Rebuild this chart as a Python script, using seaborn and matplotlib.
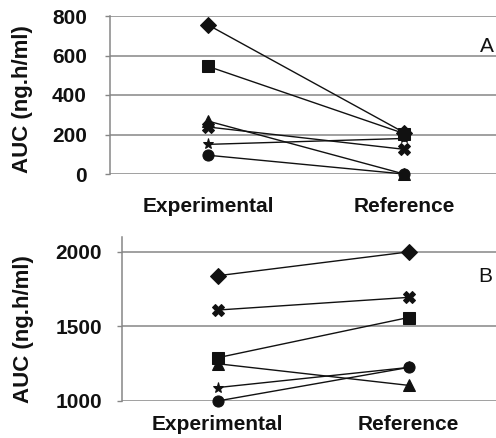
import numpy as np
import pandas as pd
import matplotlib
matplotlib.use("Agg")
import matplotlib.pyplot as plt
import matplotlib.transforms as mtransforms
import seaborn as sns

# Formulations compared (x categories)
formulations = ["Experimental", "Reference"]
subjects = ["S1", "S2", "S3", "S4", "S5", "S6"]
subject_markers = ["D", "s", "^", "X", "*", "o"]

# Panel A: AUC (ng.h/ml) per subject, Experimental vs Reference
auc_a_experimental = [755, 545, 268, 238, 150, 95]
auc_a_reference = [210, 205, 0, 125, 180, 0]

# Panel B: AUC (ng.h/ml) per subject, Experimental vs Reference
auc_b_experimental = [1840, 1290, 1250, 1610, 1090, 1000]
auc_b_reference = [2000, 1560, 1105, 1695, 1225, 1225]

yticks_a = [0, 200, 400, 600, 800]
yticks_b = [1000, 1500, 2000]

sns.set_theme(style="white")
plt.rcParams["font.family"] = ["Liberation Sans", "DejaVu Sans"]

W, H = 496, 438
fig = plt.figure(figsize=(W / 100, H / 100), dpi=100)
INK = "#111111"
GRID = "#868686"


def px_axes(left, top, right, bottom):
    return fig.add_axes([left / W, 1 - bottom / H, (right - left) / W, (bottom - top) / H])


def long_table(exp, ref):
    rows = []
    for s, e, r in zip(subjects, exp, ref):
        rows.append({"subject": s, "pos": 0, "auc": e})
        rows.append({"subject": s, "pos": 1, "auc": r})
    return pd.DataFrame(rows)


def draw_panel(ax, exp, ref, ylim, yticks, letter, letter_xy, label_shift, xpad, ypad):
    df = long_table(exp, ref)
    sns.lineplot(data=df, x="pos", y="auc", units="subject", style="subject",
                 markers=dict(zip(subjects, subject_markers)), dashes=False,
                 estimator=None, color=INK, linewidth=1.0,
                 markersize=8.0, markeredgecolor=INK, legend=False,
                 ax=ax, clip_on=False, zorder=3)
    ax.set_xlim(-0.5, 1.5)
    ax.set_ylim(*ylim)
    ax.set_yticks(yticks)
    ax.set_yticklabels([str(v) for v in yticks], fontsize=15, fontweight="bold", color=INK)
    ax.set_xticks([0, 1])
    ax.set_xticklabels(formulations, fontsize=15, fontweight="bold", color=INK)
    for lab, dx in zip(ax.get_xticklabels(), label_shift):
        lab.set_transform(lab.get_transform() +
                          mtransforms.ScaledTranslation(dx / 100, 0, fig.dpi_scale_trans))
    ax.tick_params(axis="x", length=0, pad=xpad)
    ax.tick_params(axis="y", length=3.6, width=1, color=GRID, pad=ypad, left=True)
    for t in yticks:
        ax.axhline(t, color=GRID, linewidth=1.1, zorder=1)
    for side in ["top", "right", "bottom"]:
        ax.spines[side].set_visible(False)
    ax.spines["left"].set_color(GRID)
    ax.spines["left"].set_linewidth(1.1)
    ax.set_xlabel("")
    ax.set_ylabel("AUC (ng.h/ml)", fontsize=16, fontweight="bold", color=INK)
    ax.text(letter_xy[0] / W, 1 - letter_xy[1] / H, letter, transform=fig.transFigure,
            fontsize=15, color=INK, ha="center", va="center")


ax_a = px_axes(110, 16, 502, 174)
draw_panel(ax_a, auc_a_experimental, auc_a_reference, (0, 800), yticks_a, "A",
           (487, 46), [14, 22], xpad=16.5, ypad=13)
ax_a.yaxis.set_label_coords(33 / W, 1 - 99 / H, transform=fig.transFigure)

ax_b = px_axes(122, 237, 504, 401)
draw_panel(ax_b, auc_b_experimental, auc_b_reference, (1000, 2100), yticks_b, "B",
           (485, 276), [0, 18], xpad=10, ypad=10.8)
ax_b.yaxis.set_label_coords(34 / W, 1 - 329 / H, transform=fig.transFigure)

fig.savefig("out.png", dpi=100)
